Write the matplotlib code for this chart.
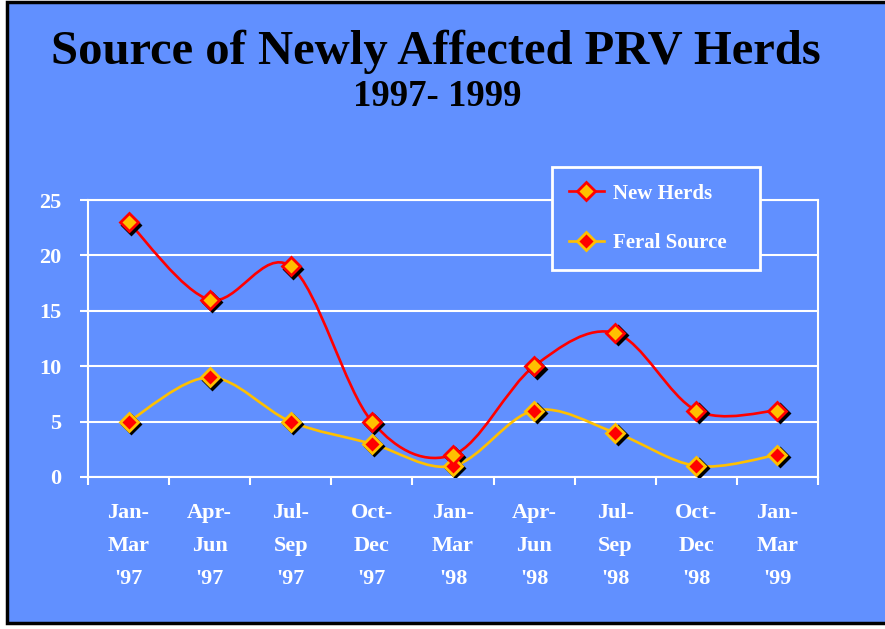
import numpy as np
import matplotlib
matplotlib.use('Agg')
import matplotlib.pyplot as plt
from matplotlib.path import Path
from matplotlib.patches import PathPatch, Rectangle
from matplotlib.lines import Line2D
import matplotlib.transforms as mtransforms

# data
periods = ["Jan-\nMar\n'97", "Apr-\nJun\n'97", "Jul-\nSep\n'97", "Oct-\nDec\n'97",
           "Jan-\nMar\n'98", "Apr-\nJun\n'98", "Jul-\nSep\n'98", "Oct-\nDec\n'98",
           "Jan-\nMar\n'99"]
new_herds = [23, 16, 19, 5, 2, 10, 13, 6, 6]
feral_source = [5, 9, 5, 3, 1, 6, 4, 1, 2]
y_ticks = [0, 5, 10, 15, 20, 25]

BLUE = '#6190FF'
RED = '#FF0000'
GOLD = '#FFC000'
FONT = 'Liberation Serif'


def smooth_path(xs, ys, t=1.0 / 6):
    # bezier segments through the points, like the "smoothed line" option
    n = len(xs)
    verts = [(xs[0], ys[0])]
    codes = [Path.MOVETO]
    for i in range(n - 1):
        a = i - 1 if i > 0 else i
        d = i + 2 if i + 2 < n else i + 1
        c1 = (xs[i] + (xs[i + 1] - xs[a]) * t, ys[i] + (ys[i + 1] - ys[a]) * t)
        c2 = (xs[i + 1] - (xs[d] - xs[i]) * t, ys[i + 1] - (ys[d] - ys[i]) * t)
        verts += [c1, c2, (xs[i + 1], ys[i + 1])]
        codes += [Path.CURVE4] * 3
    return Path(verts, codes)


fig = plt.figure(figsize=(8.85, 6.29), dpi=100)
fig.patch.set_facecolor('white')
W, H = 885.0, 629.0
bg = Rectangle((7 / W, 1 - 623 / H), 1.2, (623 - 2) / H, transform=fig.transFigure,
               facecolor=BLUE, edgecolor='black', lw=2.5, zorder=0)
fig.add_artist(bg)

fig.text(436 / W, 1 - 52 / H, 'Source of Newly Affected PRV Herds', ha='center', va='center',
         family=FONT, weight='bold', size=35, color='black')
fig.text(437 / W, 1 - 96 / H, '1997- 1999', ha='center', va='center',
         family=FONT, weight='bold', size=26.5, color='black')

ax = fig.add_axes([88 / W, 1 - 477 / H, 730 / W, 277 / H])
ax.set_facecolor(BLUE)
x = np.arange(len(periods))

for vals, lc, fc, ec in [(feral_source, GOLD, RED, GOLD), (new_herds, RED, GOLD, RED)]:
    ax.add_patch(PathPatch(smooth_path(x, vals), facecolor='none', edgecolor=lc, lw=1.9, zorder=3))
    shadow = mtransforms.offset_copy(ax.transData, fig=fig, x=2.5, y=-2.5, units='dots')
    ax.plot(x, vals, ls='none', marker='D', ms=9.5, mfc='black', mec='black', mew=2,
            transform=shadow, zorder=4)
    ax.plot(x, vals, ls='none', marker='D', ms=9.5, mfc=fc, mec=ec, mew=2, zorder=5)

ax.set_xlim(-0.5, len(periods) - 0.5)
ax.set_ylim(0, 25)
ax.set_yticks(y_ticks)
ax.set_yticklabels([str(v) for v in y_ticks])
ax.set_xticks(np.arange(-0.5, len(periods), 1))
ax.set_xticklabels([])
ax.set_xticks(x, minor=True)
ax.set_xticklabels(periods, minor=True, linespacing=1.85)

for lab in ax.get_yticklabels() + ax.get_xticklabels(minor=True):
    lab.set_family(FONT)
    lab.set_weight('bold')
    lab.set_fontsize(16)
    lab.set_color('white')

ax.tick_params(axis='y', direction='out', length=6, width=1.5, color='white', pad=13)
ax.tick_params(axis='x', which='major', direction='out', length=6, width=1.5, color='white')
ax.tick_params(axis='x', which='minor', length=0, pad=19)

ax.yaxis.grid(True, color='white', lw=1.5)
ax.set_axisbelow(True)
for s in ax.spines.values():
    s.set_color('white')
    s.set_linewidth(1.5)

handles = [
    Line2D([], [], color=RED, lw=1.9, marker='D', ms=9.5, mfc=GOLD, mec=RED, mew=2),
    Line2D([], [], color=GOLD, lw=1.9, marker='D', ms=9.5, mfc=RED, mec=GOLD, mew=2),
]
leg = ax.legend(handles, ['New Herds', 'Feral Source'], loc='upper left',
                bbox_to_anchor=(464 / 730, 0.77, 208 / 730, (477 - 167) / 277 - 0.77),
                mode='expand', borderaxespad=0, frameon=True, fancybox=False,
                facecolor=BLUE, edgecolor='white', framealpha=1,
                prop=dict(family=FONT, weight='bold', size=15), labelcolor='white',
                handlelength=1.7, handletextpad=0.45, borderpad=0.8, labelspacing=1.4)
leg.get_frame().set_linewidth(2)
leg.set_zorder(10)

fig.savefig('out.png', dpi=100, facecolor=fig.get_facecolor())
